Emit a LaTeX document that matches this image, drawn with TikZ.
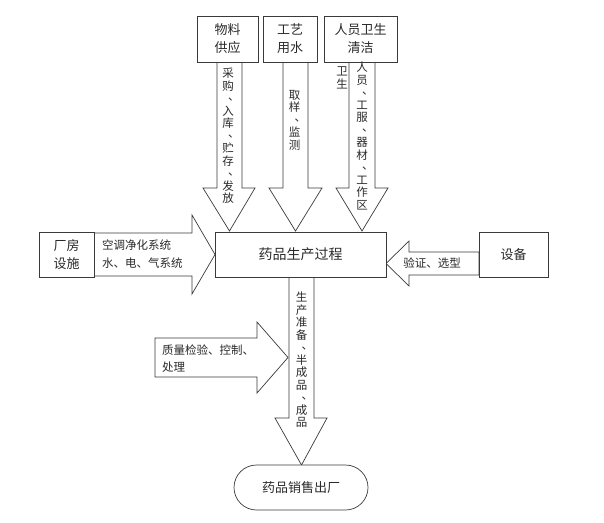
\documentclass[tikz,border=0pt]{standalone}
\usepackage{fontspec}
\setmainfont{Noto Sans CJK SC}
\definecolor{lc}{HTML}{3A3A3A}
\definecolor{tc}{HTML}{2A2A2A}
\newcommand{\vdun}{\makebox[1em][l]{\hspace{0.5em}\raisebox{0.2em}{、}}}
\begin{document}
\begin{tikzpicture}[x=1pt,y=-1pt,
 box/.style={draw=lc, line width=0.7pt, fill=white, inner sep=0pt, font=\fontsize{13}{18}\selectfont, text=tc, align=center},
 fat/.style={draw=lc, line width=0.7pt, fill=white, line join=miter},
 lbl/.style={font=\fontsize{11.5}{18}\selectfont, text=tc, align=left, inner sep=0pt},
 vlbl/.style={font=\fontsize{11.5}{12.5}\selectfont, text=tc, align=center, inner sep=0pt}]
\useasboundingbox (0,0) rectangle (604,522);
% fat arrows
\draw[fat] (217,62)--(217,188)--(203,188)--(229.5,231)--(255,188)--(242,188)--(242,62)--cycle;
\draw[fat] (283,62)--(283,188)--(269,188)--(295.5,231)--(322,188)--(308,188)--(308,62)--cycle;
\draw[fat] (349,62)--(349,188)--(336,188)--(362,231)--(388,188)--(375,188)--(375,62)--cycle;
\draw[fat] (94,233)--(192,233)--(192,215)--(215,254.5)--(192,294)--(192,276)--(94,276)--cycle;
\draw[fat] (479,252)--(409,252)--(409,241)--(386,263.5)--(409,286)--(409,275)--(479,275)--cycle;
\draw[fat] (289,277)--(289,418)--(275,418)--(301.5,465)--(327,418)--(314,418)--(314,277)--cycle;
\draw[fat] (155,338)--(257,338)--(257,322)--(288,357.5)--(257,393)--(257,377)--(155,377)--cycle;
% boxes
\node[box, minimum width=61pt, minimum height=46pt] (b1) at (227.5,39) {物料\\供应};
\node[box, minimum width=54pt, minimum height=46pt] (b2) at (290,39) {工艺\\用水};
\node[box, minimum width=73pt, minimum height=46pt] (b3) at (360.5,39) {人员卫生\\清洁};
\node[box, minimum width=171pt, minimum height=45pt, font=\fontsize{14}{18}\selectfont] (main) at (300.5,254.5) {药品生产过程};
\node[box, minimum width=55pt, minimum height=45pt] (fac) at (66.5,254.5) {厂房\\设施};
\node[box, minimum width=69pt, minimum height=45pt] (eq) at (513.5,254.5) {设备};
\node[box, minimum width=134pt, minimum height=45pt, rounded corners=22.5pt] (sale) at (301,487.5) {药品销售出厂};
% labels
\node[vlbl] (t1) at (228,136) {采\\购\\\vdun\\入\\库\\\vdun\\贮\\存\\\vdun\\发\\放};
\node[vlbl] (t2) at (294.5,120) {取\\样\\\vdun\\监\\测};
\node[vlbl] (t3) at (362,136) {人\\员\\\vdun\\工\\服\\\vdun\\器\\材\\\vdun\\工\\作\\区};
\node[vlbl] (t4) at (342,78) {卫\\生};
\node[vlbl] (t5) at (301.5,360) {生\\产\\准\\备\\\vdun\\半\\成\\品\\\vdun\\成\\品};
\node[lbl, anchor=west] (t6) at (102,254) {空调净化系统\\水、电、气系统};
\node[lbl] (t7) at (432,263.5) {验证、选型};
\node[lbl, anchor=west, font=\fontsize{11.5}{17}\selectfont] (t8) at (162,358.5) {质量检验、控制、\\处理};
\end{tikzpicture}
\end{document}
